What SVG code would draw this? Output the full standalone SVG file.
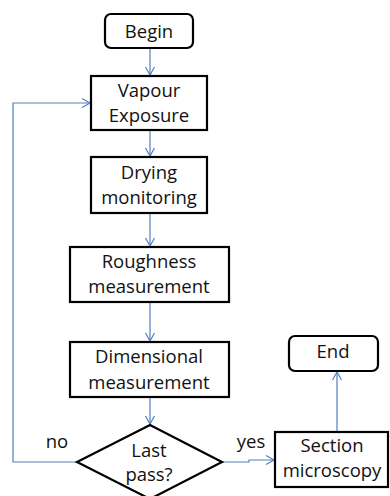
<svg xmlns="http://www.w3.org/2000/svg" width="390" height="496" viewBox="0 0 390 496">
<defs>
<style>
.box{fill:#fff;stroke:#000;stroke-width:2.2}
.t{font-family:"Open Sans","Liberation Sans",sans-serif;font-size:18.5px;fill:#111;text-anchor:middle}
.c{fill:none;stroke:#4f81bd;stroke-width:1.2}
</style>
<marker id="ah" markerUnits="userSpaceOnUse" markerWidth="12" markerHeight="12" refX="9" refY="5" orient="auto">
<path d="M1,0.5 L9,5 L1,9.5" fill="none" stroke="#4f81bd" stroke-width="1.2"/>
</marker>
</defs>
<rect width="390" height="496" fill="#fff"/>
<g id="connectors">
<path class="c" d="M150,48 V75" marker-end="url(#ah)"/>
<path class="c" d="M150,130 V156" marker-end="url(#ah)"/>
<path class="c" d="M150,213 V246" marker-end="url(#ah)"/>
<path class="c" d="M150,302 V341" marker-end="url(#ah)"/>
<path class="c" d="M150,397 V424" marker-end="url(#ah)"/>
<path class="c" d="M77,462 H13 V103 H90" marker-end="url(#ah)"/>
<path class="c" d="M222,462 H249 V460 H274" marker-end="url(#ah)"/>
<path class="c" d="M337,432 V372" marker-end="url(#ah)"/>
</g>
<g id="begin">
<rect class="box" x="105" y="14" width="88" height="34" rx="6"/>
<text class="t" x="149" y="38">Begin</text>
</g>
<g id="vapour">
<rect class="box" x="91" y="76" width="116" height="54"/>
<text class="t" x="149" y="97">Vapour</text>
<text class="t" x="149" y="122">Exposure</text>
</g>
<g id="drying">
<rect class="box" x="91" y="157" width="116" height="56"/>
<text class="t" x="149" y="179">Drying</text>
<text class="t" x="149" y="204">monitoring</text>
</g>
<g id="roughness">
<rect class="box" x="70" y="247" width="159" height="55"/>
<text class="t" x="149" y="268">Roughness</text>
<text class="t" x="149" y="293">measurement</text>
</g>
<g id="dimensional">
<rect class="box" x="70" y="342" width="159" height="55"/>
<text class="t" x="149" y="363">Dimensional</text>
<text class="t" x="149" y="389">measurement</text>
</g>
<g id="lastpass">
<polygon class="box" points="150,425 222,462 150,499 77,462"/>
<text class="t" x="149" y="457">Last</text>
<text class="t" x="149" y="481">pass?</text>
</g>
<text class="t" x="57" y="448">no</text>
<text class="t" x="251" y="448">yes</text>
<g id="section">
<rect class="box" x="275" y="432" width="113" height="55"/>
<text class="t" x="332" y="452">Section</text>
<text class="t" x="332" y="477">microscopy</text>
</g>
<g id="end">
<rect class="box" x="289" y="336" width="89" height="35" rx="6"/>
<text class="t" x="333" y="358">End</text>
</g>
</svg>
